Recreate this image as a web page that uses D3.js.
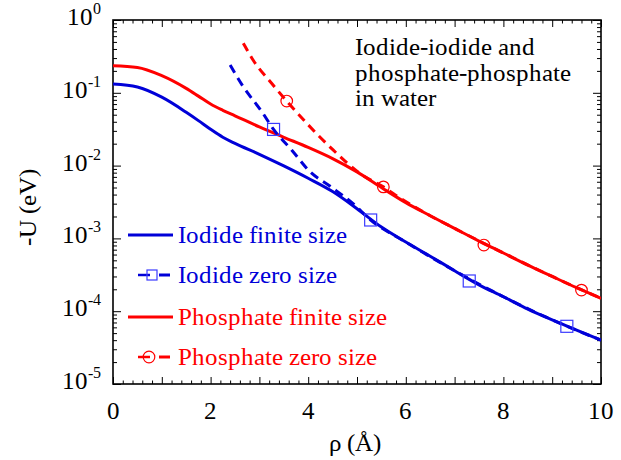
<!DOCTYPE html>
<html><head><meta charset="utf-8">
<script src="https://cdn.jsdelivr.net/npm/d3@7"></script>
<style>
@font-face{font-family:"RefSerif";src:local("Liberation Serif"),local("LiberationSerif"),local("LiberationSerif-Regular"),local("Tinos"),local("Times New Roman");}
body{margin:0;background:#fff}
svg{display:block}
</style>
</head><body><div id="chart"></div>
<script>
// ---- data ----
const rhoFinite = [0,0.5,1,1.5,1.75,2,2.25,2.5,3,3.5,4,4.5,5,5.5,6,6.5,7,7.5,8,8.5,9,9.5,10];
const iodideFinite = [0.132,0.12,0.087,0.054,0.0415,0.0315,0.0245,0.0202,0.0143,0.0099,0.0067,0.0044,0.00256,0.00143,0.00089,0.00057,0.00036,0.00023,0.000158,0.000107,0.000076,0.000055,0.00004];
const phosphateFinite = [0.235,0.223,0.172,0.115,0.09,0.07,0.0575,0.0483,0.034,0.0245,0.0178,0.0125,0.0082,0.005,0.0031,0.00205,0.00137,0.00092,0.00063,0.00043,0.0003,0.00021,0.00015];

const rhoIodideZero = [2.40,2.67,3.05,3.29,3.66,4.04,4.45,4.92,5.28,6,7,8,9,10];
const iodideZero = [0.241,0.121,0.055,0.0314,0.0164,0.0082,0.0052,0.003,0.00179,0.00089,0.00036,0.000158,0.000076,0.00004];
const rhoPhosphateZero = [2.67,2.87,3.25,3.56,4.0,4.51,5.06,5.54,5.88,6.5,7,8,9,10];
const phosphateZero = [0.48,0.282,0.135,0.077,0.0363,0.0164,0.0078,0.0051,0.0036,0.00205,0.00137,0.00063,0.0003,0.00015];

const iodideMarkRho = [3.29,5.28,7.3,9.3];
const iodideMarkU = [0.0314,0.00179,0.00026,0.000062];
const phosphateMarkRho = [3.56,5.54,7.6,9.6];
const phosphateMarkU = [0.077,0.0051,0.00081,0.000195];

const xTickLabels = [0,2,4,6,8,10];
const yTickExponents = [0,-1,-2,-3,-4,-5];
const legendLabels = ["Iodide finite size","Iodide zero size","Phosphate finite size","Phosphate zero size"];
const noteLines = ["Iodide-iodide and","phosphate-phosphate","in water"];

// ---- layout ----
const W = 621, H = 460;
const L = 113, R = 601, T = 20, B = 384;
const BLUE = "#0000d8", RED = "#ff0000", MBLUE = "#3a3aff";
const FONT = '"RefSerif", "Liberation Serif", serif';

const svg = d3.select("#chart").append("svg").attr("width", W).attr("height", H);
const x = d3.scaleLinear().domain([0,10]).range([L,R]);
const y = d3.scaleLog().domain([1e-5,1]).range([B,T]);

const xMajor = d3.range(0,10.001,1);
const xMinor = d3.range(0,10.001,0.2).filter(v => Math.abs(v - Math.round(v)) > 1e-6);
const yMajor = yTickExponents.map(e => Math.pow(10,e));
const yMinor = [];
for (let e=-5;e<0;e++) for (let m=2;m<=9;m++) yMinor.push(m*Math.pow(10,e));

function tickGroup(axisFn, scale, vals, size, tx, ty){
  const g = svg.append("g").attr("transform",`translate(${tx},${ty})`)
    .call(axisFn(scale).tickValues(vals).tickSize(size).tickFormat(""));
  g.select(".domain").remove();
  g.selectAll("text").remove();
  g.selectAll("line").attr("stroke","#000").attr("stroke-width",1);
}
tickGroup(d3.axisBottom, x, xMajor, -7, 0, B);
tickGroup(d3.axisBottom, x, xMinor, -3.5, 0, B);
tickGroup(d3.axisTop, x, xMajor, -7, 0, T);
tickGroup(d3.axisTop, x, xMinor, -3.5, 0, T);
tickGroup(d3.axisLeft, y, yMajor, -8, L, 0);
tickGroup(d3.axisLeft, y, yMinor, -4, L, 0);
tickGroup(d3.axisRight, y, yMajor, -8, R, 0);
tickGroup(d3.axisRight, y, yMinor, -4, R, 0);

svg.append("rect").attr("x",L).attr("y",T).attr("width",R-L).attr("height",B-T)
  .attr("fill","none").attr("stroke","#000").attr("stroke-width",1.6);

const txt = sel => sel.style("font-family", FONT);

// x tick labels
svg.append("g").selectAll("text").data(xTickLabels).join("text").call(txt)
  .attr("x", d => x(d)).attr("y", B+35).attr("text-anchor","middle")
  .attr("font-size",25).attr("fill","#000").text(d => d);

// y tick labels with superscripts
const yl = svg.append("g").selectAll("text").data(yTickExponents).join("text").call(txt)
  .attr("x", 101).attr("y", d => y(Math.pow(10,d))+5).attr("text-anchor","end")
  .attr("font-size",25).attr("fill","#000");
yl.append("tspan").text("10");
yl.append("tspan").attr("font-size",16).attr("dy",-11).text(d => d === 0 ? "0" : "-" + Math.abs(d));

// axis titles
svg.append("text").call(txt).attr("x",(L+R)/2-2).attr("y",451).attr("text-anchor","middle")
  .attr("font-size",25).attr("fill","#000").text("ρ (Å)");
svg.append("text").call(txt).attr("transform","translate(36,207) rotate(-90)").attr("text-anchor","middle")
  .attr("font-size",25).attr("fill","#000").text("-U (eV)");

svg.append("clipPath").attr("id","clip").append("rect")
  .attr("x",L).attr("y",T).attr("width",R-L).attr("height",B-T);
const plot = svg.append("g").attr("clip-path","url(#clip)");

const line = d3.line().x(d => x(d[0])).y(d => y(d[1])).curve(d3.curveMonotoneX);
const zip = (a,b) => a.map((v,i) => [v,b[i]]);

plot.append("path").attr("d", line(zip(rhoFinite, iodideFinite)))
  .attr("fill","none").attr("stroke",BLUE).attr("stroke-width",3);
plot.append("path").attr("d", line(zip(rhoFinite, phosphateFinite)))
  .attr("fill","none").attr("stroke",RED).attr("stroke-width",3);
plot.append("path").attr("d", line(zip(rhoIodideZero, iodideZero)))
  .attr("fill","none").attr("stroke",BLUE).attr("stroke-width",3).attr("stroke-dasharray","9,6");
plot.append("path").attr("d", line(zip(rhoPhosphateZero, phosphateZero)))
  .attr("fill","none").attr("stroke",RED).attr("stroke-width",3).attr("stroke-dasharray","9,6");

// markers
plot.append("g").selectAll("rect").data(zip(iodideMarkRho, iodideMarkU)).join("rect")
  .attr("x", d => x(d[0])-6).attr("y", d => y(d[1])-6).attr("width",12).attr("height",12)
  .attr("fill","none").attr("stroke",MBLUE).attr("stroke-width",1.2);
plot.append("g").selectAll("circle").data(zip(phosphateMarkRho, phosphateMarkU)).join("circle")
  .attr("cx", d => x(d[0])).attr("cy", d => y(d[1])).attr("r",5.8)
  .attr("fill","none").attr("stroke",RED).attr("stroke-width",1.2);

// legend
const legY = [235,275,317,357];
const legColor = [BLUE,BLUE,RED,RED];
const lg = svg.append("g");
legendLabels.forEach((lab,i) => {
  const c = legColor[i];
  const yy = legY[i];
  if (i % 2 === 0) {
    lg.append("line").attr("x1",128).attr("x2",173).attr("y1",yy).attr("y2",yy)
      .attr("stroke",c).attr("stroke-width",3);
  } else {
    lg.append("line").attr("x1",138).attr("x2",150).attr("y1",yy).attr("y2",yy)
      .attr("stroke",c).attr("stroke-width",2.5);
    lg.append("line").attr("x1",159).attr("x2",170).attr("y1",yy).attr("y2",yy)
      .attr("stroke",c).attr("stroke-width",3);
    if (i === 1) {
      lg.append("rect").attr("x",147).attr("y",yy-5).attr("width",10).attr("height",10)
        .attr("fill","none").attr("stroke",MBLUE).attr("stroke-width",1.2);
    } else {
      lg.append("circle").attr("cx",149).attr("cy",yy).attr("r",5.8)
        .attr("fill","none").attr("stroke",RED).attr("stroke-width",1.2);
    }
  }
  lg.append("text").call(txt).attr("x",178).attr("y",yy+8).attr("font-size",25)
    .attr("fill",c).text(lab);
});

// annotation
svg.append("g").selectAll("text").data(noteLines).join("text").call(txt)
  .attr("x",355).attr("y",(d,i) => 55 + i*25.5).attr("font-size",25).attr("fill","#000").text(d => d);
</script>
</body></html>
